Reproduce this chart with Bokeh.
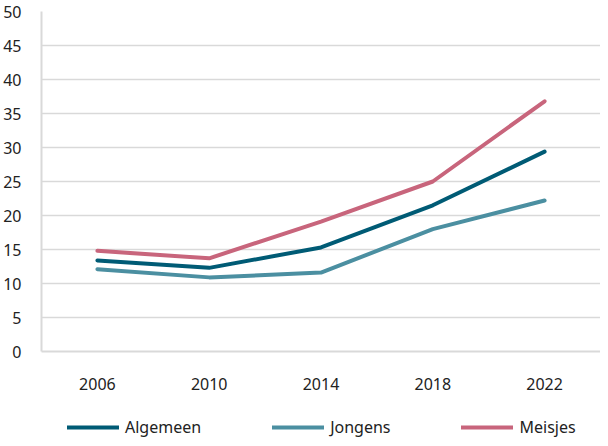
from bokeh.plotting import figure
from bokeh.layouts import column
from bokeh.models import FactorRange, Range1d, Legend, LegendItem, FixedTicker, ColumnDataSource
from bokeh.embed import file_html
from bokeh.resources import INLINE

years = ["2006", "2010", "2014", "2018", "2022"]
algemeen = [13.4, 12.3, 15.3, 21.5, 29.4]
jongens = [12.1, 10.9, 11.6, 18.0, 22.2]
meisjes = [14.8, 13.7, 19.1, 25.0, 36.8]
y_ticks = [0, 5, 10, 15, 20, 25, 30, 35, 40, 45, 50]
names = ["Algemeen", "Jongens", "Meisjes"]
colors = ["#005B75", "#4B8FA1", "#C8657C"]

FONT = "Noto Sans"
TXT = "#222222"
GRID = "#d9d9d9"

p = figure(width=600, height=400, x_range=FactorRange(*years, range_padding=0),
           y_range=Range1d(0, 50), output_backend="svg", toolbar_location=None,
           min_border_left=0, min_border_right=0, min_border_top=11, min_border_bottom=49)
p.outline_line_color = None
p.background_fill_color = "white"

p.yaxis.ticker = FixedTicker(ticks=y_ticks)
p.yaxis.axis_line_color = GRID
p.yaxis.axis_line_width = 2
p.yaxis.major_tick_line_color = None
p.yaxis.minor_tick_line_color = None
p.yaxis.major_label_standoff = 14
p.yaxis.major_label_text_font = FONT
p.yaxis.major_label_text_font_size = "16px"
p.yaxis.major_label_text_color = TXT

p.xaxis.axis_line_color = GRID
p.xaxis.axis_line_width = 2
p.xaxis.major_tick_line_color = None
p.xaxis.minor_tick_line_color = None
p.xaxis.major_label_standoff = 20
p.xaxis.major_label_text_font = FONT
p.xaxis.major_label_text_font_size = "16px"
p.xaxis.major_label_text_color = TXT

p.xgrid.grid_line_color = None
p.ygrid.grid_line_color = GRID
p.ygrid.grid_line_width = 1.5

series_vals = [algemeen, jongens, meisjes]
for name, vals, col in zip(names, series_vals, colors):
    src = ColumnDataSource(dict(x=years, y=vals))
    p.line("x", "y", source=src, line_color=col, line_width=4, line_cap="round", line_join="round")

# legend strip (frame aligned with the main plot's frame by the column layout)
lf = figure(width=600, height=38, output_backend="svg", toolbar_location=None,
            x_axis_type=None, y_axis_type=None,
            x_range=FactorRange(*years, range_padding=0), y_range=Range1d(0, 50),
            min_border_left=0, min_border_right=0, min_border_top=0, min_border_bottom=0)
lf.outline_line_color = None
lf.xgrid.grid_line_color = None
lf.ygrid.grid_line_color = None
items = []
for name, vals, col in zip(names, series_vals, colors):
    src = ColumnDataSource(dict(x=years, y=vals))
    r = lf.line("x", "y", source=src, line_color=col, line_width=4, line_cap="round", visible=False)
    items.append(LegendItem(label=name, renderers=[r]))
legend = Legend(items=items, orientation="horizontal", location=(26, 0),
                glyph_width=52, glyph_height=20, label_height=20, label_standoff=6, spacing=71,
                label_text_font=FONT, label_text_font_size="16px", label_text_color=TXT,
                border_line_color=None, background_fill_alpha=0, padding=0, margin=0,
                inactive_fill_alpha=0, click_policy="none")
lf.add_layout(legend, "center")

layout = column(p, lf, spacing=0)
open("out.html", "w").write(file_html(layout, INLINE))
